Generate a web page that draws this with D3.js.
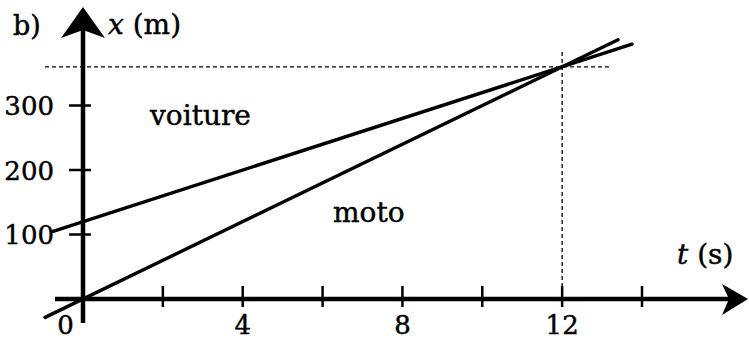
<!DOCTYPE html>
<html>
<head>
<meta charset="utf-8">
<script src="https://cdn.jsdelivr.net/npm/d3@7/dist/d3.min.js"></script>
<style>
  html, body { margin: 0; padding: 0; background: #fff; }
  svg { display: block; }
  text { font-family: "DejaVu Serif", serif; fill: #000; stroke: #000; stroke-width: 0.45px; }
</style>
</head>
<body>
<svg id="chart" width="749" height="340"></svg>
<script>
// Position–time graph: car (voiture) and motorbike (moto)
const tTicks = [2, 4, 6, 8, 10, 12, 14];
const tLabels = [4, 8, 12];
const xTicks = [100, 200, 300];
const voitureT = [-0.75, 13.75];
const voitureX = [105, 395];
const motoT = [-0.95, 13.4];
const motoX = [-28.5, 402];
const meetT = 12;
const meetX = 360;

const svg = d3.select("#chart");
const tScale = d3.scaleLinear().domain([0, 14]).range([83, 642]);
const xScale = d3.scaleLinear().domain([0, 300]).range([299, 105.5]);

const x0 = tScale(0), y0 = xScale(0);

// dashed guides at the meeting point
svg.append("line")
  .attr("x1", 45).attr("x2", 612)
  .attr("y1", xScale(meetX)).attr("y2", xScale(meetX))
  .attr("stroke", "#000").attr("stroke-width", 1.3)
  .attr("stroke-dasharray", "4,3");
svg.append("line")
  .attr("x1", tScale(meetT)).attr("x2", tScale(meetT))
  .attr("y1", 52).attr("y2", y0)
  .attr("stroke", "#000").attr("stroke-width", 1.3)
  .attr("stroke-dasharray", "4,3");

// axes
svg.append("line").attr("x1", 55).attr("x2", 735).attr("y1", y0).attr("y2", y0)
  .attr("stroke", "#000").attr("stroke-width", 4.5);
svg.append("line").attr("x1", x0).attr("x2", x0).attr("y1", 323).attr("y2", 22)
  .attr("stroke", "#000").attr("stroke-width", 4.5);

// arrowheads
svg.append("path")
  .attr("d", `M${x0},7 L${x0 + 22},38 L${x0},30 L${x0 - 22},38 Z`)
  .attr("fill", "#000");
svg.append("path")
  .attr("d", `M748,${y0} L722,${y0 - 15} L729,${y0} L722,${y0 + 16} Z`)
  .attr("fill", "#000");

// t ticks
svg.append("g").selectAll("line").data(tTicks).join("line")
  .attr("x1", d => tScale(d)).attr("x2", d => tScale(d))
  .attr("y1", y0 - 13).attr("y2", y0 + 8)
  .attr("stroke", "#000").attr("stroke-width", 2.5);
svg.append("g").selectAll("text").data(tLabels).join("text")
  .attr("x", d => tScale(d)).attr("y", 334)
  .attr("text-anchor", "middle").attr("font-size", 26)
  .text(d => d);
svg.append("text").attr("x", 65.5).attr("y", 334)
  .attr("text-anchor", "middle").attr("font-size", 26).text("0");

// x ticks
svg.append("g").selectAll("line").data(xTicks).join("line")
  .attr("x1", x0 - 14).attr("x2", x0 + 8)
  .attr("y1", d => xScale(d)).attr("y2", d => xScale(d))
  .attr("stroke", "#000").attr("stroke-width", 2.5);
svg.append("g").selectAll("text").data(xTicks).join("text")
  .attr("x", 54).attr("y", d => xScale(d) + 9.5)
  .attr("text-anchor", "end").attr("font-size", 26)
  .text(d => d);

// data lines
const line = d3.line().x(d => tScale(d[0])).y(d => xScale(d[1]));
svg.append("path").datum(d3.zip(voitureT, voitureX)).attr("d", line)
  .attr("fill", "none").attr("stroke", "#000").attr("stroke-width", 3.4)
  .attr("stroke-linecap", "round");
svg.append("path").datum(d3.zip(motoT, motoX)).attr("d", line)
  .attr("fill", "none").attr("stroke", "#000").attr("stroke-width", 3.4)
  .attr("stroke-linecap", "round");

// labels
svg.append("text").attr("x", 13).attr("y", 35).attr("font-size", 27).text("b)");
const xl = svg.append("text").attr("x", 108).attr("y", 34).attr("font-size", 28);
xl.append("tspan").attr("font-style", "italic").text("x");
xl.append("tspan").text(" (m)");
const tl = svg.append("text").attr("x", 677).attr("y", 264).attr("font-size", 28);
tl.append("tspan").attr("font-style", "italic").text("t");
tl.append("tspan").text(" (s)");
svg.append("text").attr("x", 150).attr("y", 125).attr("font-size", 28).text("voiture");
svg.append("text").attr("x", 333).attr("y", 222).attr("font-size", 28).text("moto");
</script>
</body>
</html>
